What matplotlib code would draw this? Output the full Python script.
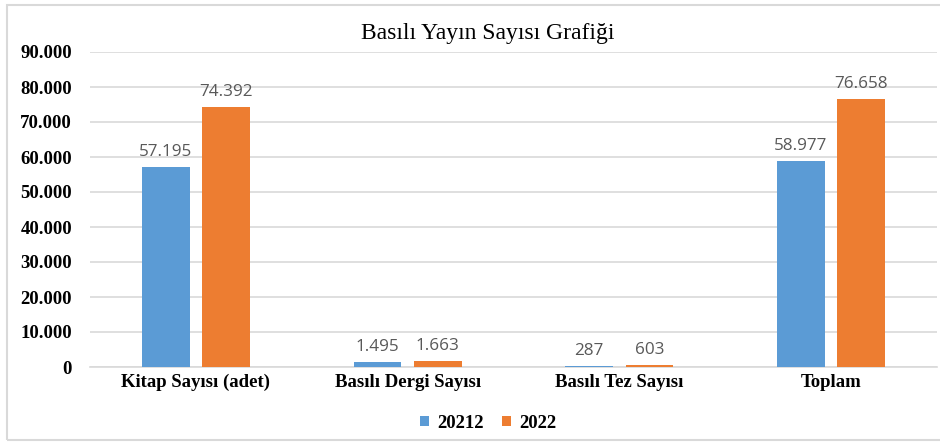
import matplotlib
matplotlib.use("Agg")
import matplotlib.pyplot as plt
from matplotlib.patches import Rectangle
import numpy as np

categories = ["Kitap Sayısı (adet)", "Basılı Dergi Sayısı", "Basılı Tez Sayısı", "Toplam"]
series_names = ["20212", "2022"]
values_2021 = [57195, 1495, 287, 58977]
values_2022 = [74392, 1663, 603, 76658]
yticks = [0, 10000, 20000, 30000, 40000, 50000, 60000, 70000, 80000, 90000]
title = "Basılı Yayın Sayısı Grafiği"

BLUE = "#5B9BD5"
ORANGE = "#ED7D31"
GRID = "#D9D9D9"

def fmt(v):
    return f"{v:,}".replace(",", ".")

fig = plt.figure(figsize=(9.4, 4.42), dpi=100)
ax = fig.add_axes([90/940, (442-367)/442, (937-90)/940, (367-52)/442])

x = np.arange(len(categories))
w = 0.226
off = 0.142
b1 = ax.bar(x - off, values_2021, w, color=BLUE, label=series_names[0], zorder=3)
b2 = ax.bar(x + off, values_2022, w, color=ORANGE, label=series_names[1], zorder=3)

for bars, vals in ((b1, values_2021), (b2, values_2022)):
    for r, v in zip(bars, vals):
        ax.annotate(fmt(v), (r.get_x() + r.get_width()/2, r.get_height()),
                    xytext=(0, 5), textcoords="offset points", ha="center", va="bottom",
                    fontsize=12.3, color="#595959", family="Open Sans")

ax.set_xlim(-0.5, 3.5)
ax.set_ylim(0, 90000)
ax.set_yticks(yticks)
ax.set_yticklabels([fmt(t) for t in yticks], family="Liberation Serif", fontweight="bold", fontsize=13.5)
ax.set_xticks(x)
ax.set_xticklabels(categories, family="Liberation Serif", fontweight="bold", fontsize=13.5)
ax.tick_params(axis="both", length=0)
ax.tick_params(axis="y", pad=13)
ax.tick_params(axis="x", pad=5)
ax.grid(axis="y", color=GRID, linewidth=1.2, zorder=0)
for s in ("top", "right", "left"):
    ax.spines[s].set_visible(False)
ax.spines["bottom"].set_color(GRID)
ax.spines["bottom"].set_linewidth(1.2)

fig.text(488/940, 1 - 34/442, title, ha="center", va="center",
         family="Liberation Serif", fontsize=17)

leg = fig.legend(handles=[b1, b2], labels=series_names, loc="center",
                 bbox_to_anchor=(488/940, 1 - 423/442), ncol=2, frameon=False,
                 prop={"family": "Liberation Serif", "weight": "bold", "size": 13.5},
                 handlelength=0.5, handleheight=0.5, handletextpad=0.4, columnspacing=1.0)

fig.patches.append(Rectangle((7/940, 1 - 440/442), 1.0, (440-5)/442, transform=fig.transFigure,
                             fill=False, edgecolor=GRID, linewidth=1.5))

fig.savefig("out.png", dpi=100)
